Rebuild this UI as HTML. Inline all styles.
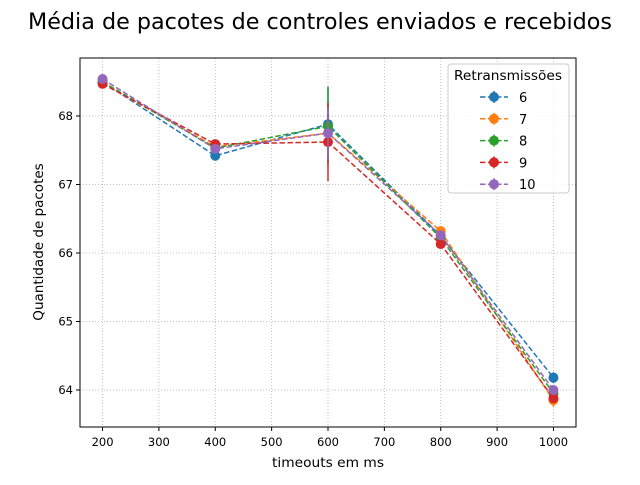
<!DOCTYPE html>
<html><head><meta charset="utf-8"><style>
body{margin:0;background:#fff}
text{font-family:"DejaVu Sans","Liberation Sans",sans-serif;fill:#000}
</style></head><body>
<svg id="chart" width="640" height="480">
<text x="320" y="29" font-size="22" text-anchor="middle" textLength="584" lengthAdjust="spacingAndGlyphs">Média de pacotes de controles enviados e recebidos</text>
<g id="grid"></g>
<g id="series"></g>
<rect x="80" y="58" width="496" height="369" fill="none" stroke="#000" stroke-width="1"/>
<g id="axes"></g>
<text x="328" y="467" font-size="13.5" text-anchor="middle" textLength="112" lengthAdjust="spacingAndGlyphs">timeouts em ms</text>
<text transform="translate(43,242) rotate(-90)" font-size="13.5" text-anchor="middle">Quantidade de pacotes</text>
<g id="legend"></g>
</svg>
<script>
const categories=[200,400,600,800,1000];
const seriesNames=["6","7","8","9","10"];
const s6=[68.50,67.42,67.88,66.25,64.18];
const s7=[68.48,67.55,67.75,66.32,63.85];
const s8=[68.50,67.53,67.85,66.22,63.95];
const s9=[68.47,67.59,67.62,66.13,63.88];
const s10=[68.54,67.52,67.75,66.26,64.00];
const e6=[0.02,0.02,0.55,0.03,0.08];
const e7=[0.02,0.02,0.05,0.03,0.10];
const e8=[0.02,0.02,0.55,0.03,0.04];
const e9=[0.02,0.03,0.57,0.03,0.05];
const e10=[0.02,0.02,0.38,0.03,0.04];
const xTicks=[200,300,400,500,600,700,800,900,1000];
const yTicks=[64,65,66,67,68];
const colors=["#1f77b4","#ff7f0e","#2ca02c","#d62728","#9467bd"];
const allS=[s6,s7,s8,s9,s10], allE=[e6,e7,e8,e9,e10];
const L=80,R=576,T=58,B=427;
function xs(v){return L+(v-160)/880*(R-L);}
function ys(v){return 390-(v-64)*68.5;}
const NS="http://www.w3.org/2000/svg";
function mk(p,tag,a){const e=document.createElementNS(NS,tag);for(const k in a)e.setAttribute(k,a[k]);p.appendChild(e);return e;}
const grid=document.getElementById('grid'),axes=document.getElementById('axes');
xTicks.forEach(t=>{const x=xs(t);
 const g=mk(grid,'line',{x1:x,x2:x,y1:T,y2:B,stroke:'#b0b0b0','stroke-width':0.8,'stroke-dasharray':'1,2'});
 
 mk(axes,'line',{x1:x,x2:x,y1:B,y2:B+4,stroke:'#000'});
 const tx=mk(axes,'text',{x:x,y:B+19,'font-size':11.5,'text-anchor':'middle'});tx.textContent=t;
 });
yTicks.forEach(t=>{const y=ys(t);
 const g=mk(grid,'line',{x1:L,x2:R,y1:y,y2:y,stroke:'#b0b0b0','stroke-width':0.8,'stroke-dasharray':'1,2'});
 
 mk(axes,'line',{x1:L-4,x2:L,y1:y,y2:y,stroke:'#000'});
 const tx=mk(axes,'text',{x:L-7,y:y+4,'font-size':11.5,'text-anchor':'end'});tx.textContent=t;
 });
const sg=document.getElementById('series');
allS.forEach((s,i)=>{const g=mk(sg,'g',{});
 
 const pts=s.map((v,j)=>xs(categories[j])+','+ys(v)).join(' ');
 mk(g,'polyline',{points:pts,fill:'none',stroke:colors[i],'stroke-width':1.5,'stroke-dasharray':'5.5,2.5'});
 s.forEach((v,j)=>{const x=xs(categories[j]);
  const eb=mk(g,'line',{x1:x,x2:x,y1:ys(v+allE[i][j]),y2:ys(v-allE[i][j]),stroke:colors[i],'stroke-width':1.5});
  
  const c=mk(g,'circle',{cx:x,cy:ys(v),r:5,fill:colors[i]});
  });});
const lg=document.getElementById('legend');

mk(lg,'rect',{x:448,y:64,width:121,height:129,rx:3,fill:'#fff','fill-opacity':0.8,stroke:'#ccc'});
const lt=mk(lg,'text',{x:508,y:80,'font-size':13,'text-anchor':'middle',textLength:108,lengthAdjust:'spacingAndGlyphs'});lt.textContent='Retransmissões';
seriesNames.forEach((n,i)=>{const y=97+i*21.8;
 const e=mk(lg,'g',{});
 mk(e,'line',{x1:480,x2:508,y1:y,y2:y,stroke:colors[i],'stroke-width':1.5,'stroke-dasharray':'5.5,2.5'});
 mk(e,'line',{x1:494,x2:494,y1:y-6,y2:y+6,stroke:colors[i],'stroke-width':1.5});
 mk(e,'circle',{cx:494,cy:y,r:5,fill:colors[i]});
 const t=mk(e,'text',{x:519,y:y+5,'font-size':13});t.textContent=n;});
</script>
</body></html>
